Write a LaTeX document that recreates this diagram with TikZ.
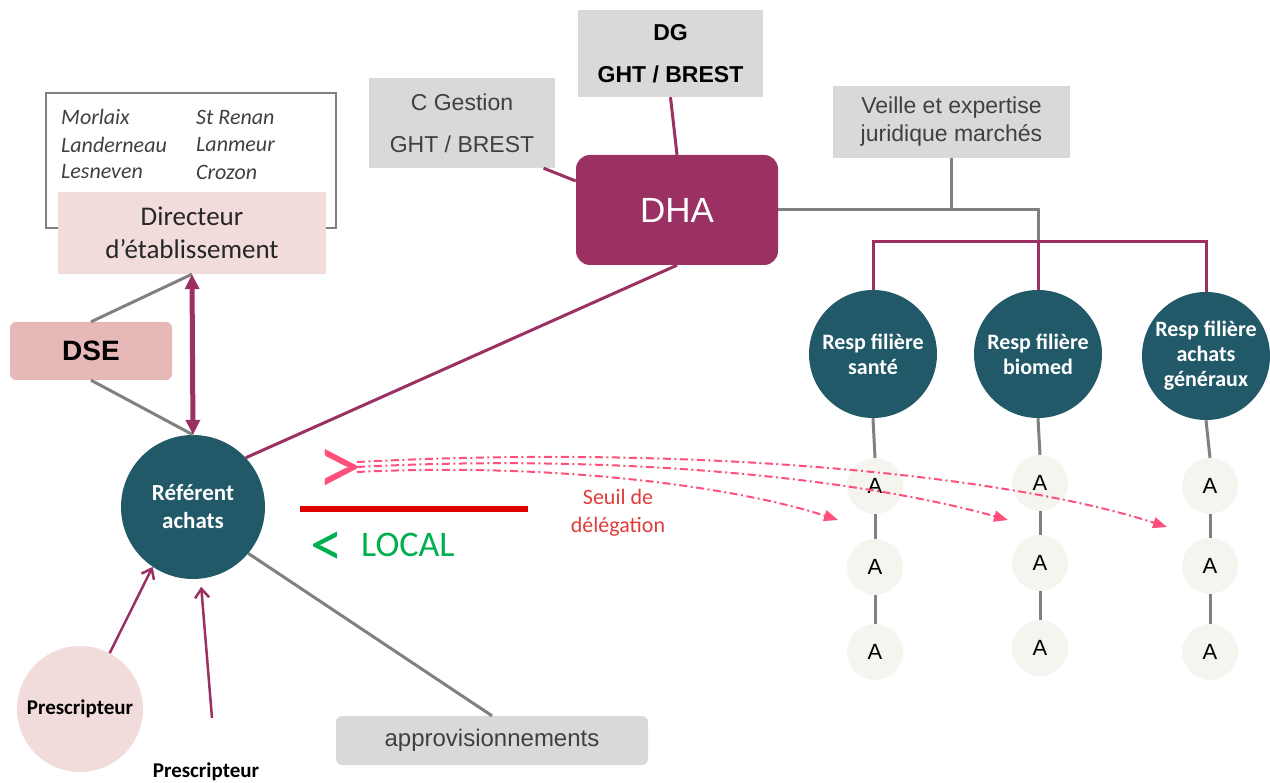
\documentclass[tikz,border=0pt]{standalone}
\usepackage{fontspec}
\setmainfont{Carlito}
\newfontfamily\arialf{Liberation Sans}
\usetikzlibrary{arrows.meta,calc}
\definecolor{mag}{HTML}{9B3062}
\definecolor{teal}{HTML}{215968}
\definecolor{boxgray}{HTML}{D9D9D9}
\definecolor{linegray}{HTML}{808080}
\definecolor{pinklt}{HTML}{F2DCDB}
\definecolor{dsefill}{HTML}{E6B8B7}
\definecolor{afill}{HTML}{F5F4EE}
\definecolor{pinkarr}{HTML}{FF4F7B}
\definecolor{seuilred}{HTML}{E03C3C}
\definecolor{localgreen}{HTML}{00B050}
\definecolor{darktxt}{HTML}{404040}
\newcommand{\fsz}[2]{\fontsize{#1}{#2}\selectfont}
\begin{document}
\begin{tikzpicture}[x=1pt,y=-1pt,
  graybox/.style={fill=boxgray, inner sep=0pt, align=center, text=darktxt},
  grayline/.style={draw=linegray, line width=3pt},
  magline/.style={draw=mag, line width=3pt},
  respc/.style={circle, fill=teal, minimum size=128pt, inner sep=0pt, text=white, align=center, font=\bfseries\fsz{22}{25}},
  acirc/.style={circle, fill=afill, minimum size=56pt, inner sep=0pt, font=\arialf\fsz{22}{24}},
  cityt/.style={anchor=west, inner sep=0pt, text=darktxt, font=\itshape\fsz{22}{24}},
  pinkarrow/.style={draw=pinkarr, line width=2pt, dash pattern=on 8pt off 3.5pt on 2pt off 3.5pt, -{Triangle[length=14pt,width=11pt]}},
  presarrow/.style={draw=mag, line width=2.5pt, -{Straight Barb[length=9pt,width=14pt,line width=2.5pt]}}
]
\useasboundingbox (0,0) rectangle (1270,783);

% cities box
\node[draw=linegray, line width=1.2pt, minimum width=290pt, minimum height=135pt, inner sep=0pt] (cities) at (191,160.5) {};
\node[cityt] (c1) at (61,117) {Morlaix};
\node[cityt] (c2) at (61,145) {Landerneau};
\node[cityt] (c3) at (61,172) {Lesneven};
\node[cityt] (c4) at (196,117) {St Renan};
\node[cityt] (c5) at (196,145) {Lanmeur};
\node[cityt] (c6) at (196,172) {Crozon};

% Directeur
\node[fill=pinklt, minimum width=268pt, minimum height=82pt, inner sep=0pt, align=center, font=\fsz{27}{33}, text=black!85] (dir) at (192,233) {Directeur\\d’établissement};

% DSE
\node[fill=dsefill, rounded corners=6pt, minimum width=162pt, minimum height=58pt, inner sep=0pt, font=\arialf\bfseries\fsz{28}{30}] (dse) at (91,351) {DSE};

% Referent
\node[circle, fill=teal, minimum size=144pt, inner sep=0pt, text=white, align=center, font=\bfseries\fsz{23}{28}] (ref) at (193,507) {Référent\\achats};

% C Gestion
\node[graybox, minimum width=186pt, minimum height=90pt, font=\arialf\fsz{23}{42}] (cg) at (462,123) {C Gestion\\GHT / BREST};
% DG
\node[graybox, minimum width=185pt, minimum height=87pt, text=black, font=\arialf\bfseries\fsz{23}{42}] (dg) at (670.5,53.5) {DG\\GHT / BREST};
% DHA
\node[fill=mag, rounded corners=14pt, minimum width=202pt, minimum height=110pt, inner sep=0pt, text=white, font=\arialf\fsz{35}{40}] (dha) at (677,210) {DHA};
% Veille
\node[graybox, minimum width=237pt, minimum height=72pt, font=\arialf\fsz{23}{28}] (veille) at (951.5,122) {Veille et expertise\\juridique marchés};

% Resp circles
\node[respc] (r1) at (873,354) {Resp filière\\santé};
\node[respc] (r2) at (1038,354) {Resp filière\\biomed};
\node[respc] (r3) at (1206,356) {Resp filière\\achats\\généraux};

% A nodes
\node[acirc] (a11) at (875,486) {A};
\node[acirc] (a12) at (875,567) {A};
\node[acirc] (a13) at (875,652) {A};
\node[acirc] (a21) at (1040,483) {A};
\node[acirc] (a22) at (1040,563) {A};
\node[acirc] (a23) at (1040,648) {A};
\node[acirc] (a31) at (1210,486) {A};
\node[acirc] (a32) at (1210,566) {A};
\node[acirc] (a33) at (1210,652) {A};

% approvisionnements
\node[graybox, rounded corners=6pt, minimum width=312pt, minimum height=49pt, font=\arialf\fsz{24}{26}] (appro) at (492,740.5) {approvisionnements};

% Prescripteurs
\node[circle, fill=pinklt, minimum size=126pt, inner sep=0pt, font=\bfseries\fsz{21}{24}] (p1) at (80,709) {Prescripteur};
\node[inner sep=0pt, font=\bfseries\fsz{21}{24}] (p2) at (206,772) {Prescripteur};
\coordinate (p2top) at (212,718);

% threshold
\node[inner sep=0pt, text=pinkarr, font=\fsz{88}{90}] (gt) at (339,472) {>};
\node[inner sep=0pt, text=localgreen, font=\fsz{66}{70}] (lt) at (327,549) {<};
\node[inner sep=0pt, anchor=west, text=localgreen, font=\fsz{36}{40}] (local) at (361,545) {LOCAL};
\node[inner sep=0pt, text=seuilred, align=center, font=\fsz{22}{28}] (seuil) at (618,513) {Seuil de\\délégation};
\coordinate (redL) at (300,509);
\coordinate (redR) at (528,509);
\draw[draw=red!88!black, line width=5.5pt] (redL) -- (redR);

% connectors
\draw[grayline] (dse.north) -- (dir.south);
\draw[grayline] (dse.south) -- (ref.north);
\draw[draw=mag, line width=5pt, {Triangle[length=15pt,width=14pt]}-{Triangle[length=15pt,width=14pt]}] (dir.south) -- (ref.north);
\draw[magline] (ref.43) -- (dha.south);
\draw[magline] (dg.south) -- (dha.north);
\draw[magline] (cg.-29) -- (dha.164);
\coordinate (barL) at (873,242);
\draw[grayline] (dha.east) -| (r2.north |- barL);
\draw[grayline] (veille.south) -- (veille.south |- dha.east);
\draw[magline] (r1.north) -- (barL) -| (r3.north);
\draw[magline] (r2.north) -- (r2.north |- barL);

\foreach \c in {1,2,3}{
  \draw[grayline] (r\c.south) -- (a\c1.north);
  \draw[grayline] (a\c1.south) -- (a\c2.north);
  \draw[grayline] (a\c2.south) -- (a\c3.north);
}

\draw[grayline] (ref.-40) -- (appro.north);
\draw[presarrow] (p1.62) -- (ref.-124);
\draw[presarrow, shorten >=8pt] (p2top) -- (ref.-84);

% delegation arrows
\coordinate (s1) at (357,472);
\coordinate (s2) at (357,467);
\coordinate (s3) at (357,462);
\coordinate (e1) at (838,520);
\coordinate (e2) at (1008,520);
\coordinate (e3) at (1167,527);
\draw[pinkarrow] (s1) .. controls (560,462) and (740,488) .. (e1);
\draw[pinkarrow] (s2) .. controls (650,452) and (880,484) .. (e2);
\draw[pinkarrow] (s3) .. controls (700,444) and (1010,476) .. (e3);
\end{tikzpicture}
\end{document}
